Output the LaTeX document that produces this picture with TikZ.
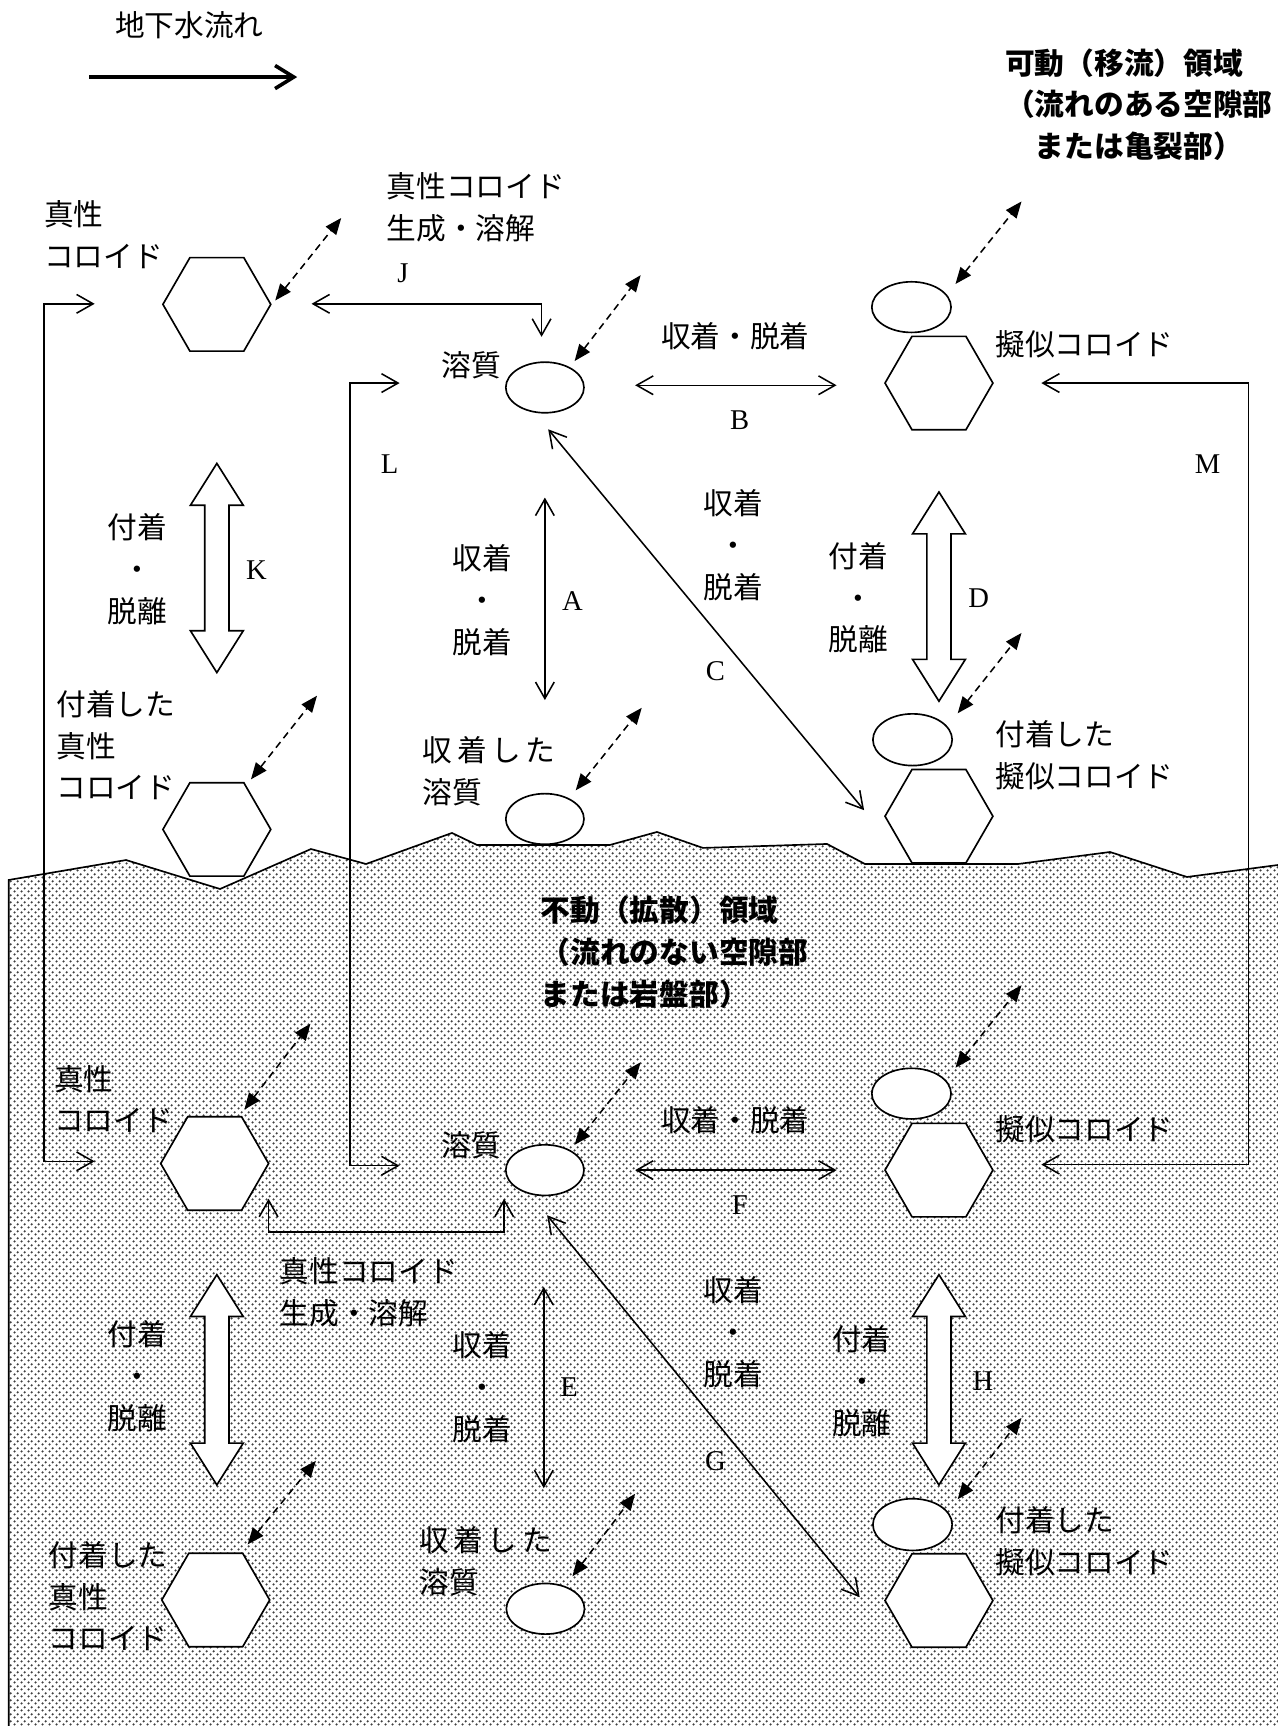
\documentclass[tikz,border=0pt]{standalone}
\usepackage{fontspec}
\setmainfont{Liberation Serif}
\newfontfamily\jp{Noto Sans CJK JP}
\usetikzlibrary{shapes.geometric,arrows.meta,patterns}
\pgfdeclarepatternformonly{gdots}{\pgfqpoint{0pt}{0pt}}{\pgfqpoint{6pt}{6pt}}{\pgfqpoint{6pt}{6pt}}{%
  \pgfpathcircle{\pgfqpoint{1.5pt}{1.5pt}}{1.15pt}%
  \pgfpathcircle{\pgfqpoint{4.5pt}{4.5pt}}{1.15pt}%
  \pgfusepath{fill}}
\newcommand\bigdarrow[3]{%
  \draw[bigarr] (#1,#2) -- (#1+24,#2+38) -- (#1+11,#2+38) -- (#1+11,#3-38)
    -- (#1+24,#3-38) -- (#1,#3) -- (#1-24,#3-38) -- (#1-11,#3-38)
    -- (#1-11,#2+38) -- (#1-24,#2+38) -- cycle;}
\begin{document}
\begin{tikzpicture}[x=1pt,y=-1pt,
  jtext/.style={font=\jp\fontsize{27}{38}\selectfont, inner sep=0pt},
  jbold/.style={font=\jp\bfseries\fontsize{27}{38}\selectfont, inner sep=0pt},
  ltr/.style={font=\fontsize{26}{30}\selectfont, inner sep=0pt},
  hexa/.style={regular polygon, regular polygon sides=6, minimum size=98pt, inner sep=0pt, draw, fill=white, line width=1.5pt},
  ell/.style={ellipse, minimum width=71pt, minimum height=46pt, inner sep=0pt, draw, fill=white, line width=1.5pt},
  conn/.style={line width=1.4pt, line join=miter, {Straight Barb[length=15pt,width=17pt]}-{Straight Barb[length=15pt,width=17pt]}},
  dsh/.style={line width=1.4pt, dash pattern=on 6.5pt off 4.5pt, {Triangle[length=15pt,width=12pt]}-{Triangle[length=15pt,width=12pt]}},
  bigarr/.style={draw, fill=white, line width=1.5pt, line join=miter},
]
\useasboundingbox (0,0) rectangle (1161,1568);

% ground (immobile region)
\fill[pattern=gdots, pattern color=black!75]
  (8,799.4) -- (114.5,781.3) -- (199.9,807.6) -- (282.5,771.3) -- (332.5,784.9)
  -- (410.6,756.7) -- (433.3,767.6) -- (554.1,767.6) -- (596.8,755.8) -- (638.6,770.3)
  -- (751.3,766.7) -- (785.8,784.9) -- (924.8,784.9) -- (1008.4,774.0) -- (1078.3,796.7)
  -- (1161,785.8) -- (1161,1568) -- (8,1568) -- cycle;
\draw[line width=1.5pt, line join=miter] (8,1568) -- (8,799.4) -- (114.5,781.3) -- (199.9,807.6) -- (282.5,771.3) -- (332.5,784.9)
  -- (410.6,756.7) -- (433.3,767.6) -- (554.1,767.6) -- (596.8,755.8) -- (638.6,770.3)
  -- (751.3,766.7) -- (785.8,784.9) -- (924.8,784.9) -- (1008.4,774.0) -- (1078.3,796.7)
  -- (1161,785.8);

% groundwater flow arrow
\coordinate (fl1) at (81,70);
\coordinate (fl2) at (270,70);
\draw[line width=3.3pt, -{Straight Barb[length=17pt,width=21pt]}] (fl1) -- (fl2);

% coordinates of connector ends
\coordinate (lpT) at (86,276);   \coordinate (lpTc) at (40,276);
\coordinate (lpBc) at (40,1055); \coordinate (lpB) at (86,1055);
\coordinate (lT) at (363,348);   \coordinate (lTc) at (318,348);
\coordinate (lBc) at (318,1059); \coordinate (lB) at (363,1059);
\coordinate (mT) at (946,348);   \coordinate (mTc) at (1134,348);
\coordinate (mBc) at (1134,1058); \coordinate (mB) at (946,1058);
\coordinate (jL) at (283,276); \coordinate (jC) at (492,276); \coordinate (jD) at (492,306);
\coordinate (j2L) at (244,1089); \coordinate (j2Lc) at (244,1119);
\coordinate (j2Rc) at (458,1119); \coordinate (j2R) at (458,1089);
\coordinate (bL) at (577,350); \coordinate (bR) at (760,350);
\coordinate (fL) at (577,1063); \coordinate (fR) at (760,1063);
\coordinate (aT) at (495,452); \coordinate (aB) at (495,636);
\coordinate (eT) at (494,1169); \coordinate (eB) at (494,1352);
\coordinate (cT) at (498,390); \coordinate (cB) at (785,736);
\coordinate (gT) at (497,1104); \coordinate (gB) at (781,1451);

% solid connectors
\draw[conn] (lpT) -- (lpTc) -- (lpBc) -- (lpB);
\draw[conn] (lT) -- (lTc) -- (lBc) -- (lB);
\draw[conn] (mT) -- (mTc) -- (mBc) -- (mB);
\draw[conn] (jL) -- (jC) -- (jD);
\draw[conn] (j2L) -- (j2Lc) -- (j2Rc) -- (j2R);
\draw[conn] (bL) -- (bR);
\draw[conn] (fL) -- (fR);
\draw[conn] (aT) -- (aB);
\draw[conn] (eT) -- (eB);
\draw[conn] (cT) -- (cB);
\draw[conn] (gT) -- (gB);

% shapes: mobile region
\node[hexa] (utc) at (197,276.5) {};
\node[hexa] (uatc) at (197,753.5) {};
\node[ell] (usol) at (495,352) {};
\node[ell] (usorb) at (495,744) {};
\node[hexa] (upsh) at (853,348) {};
\node[ell, minimum width=72pt] (upse) at (828,279) {};
\node[hexa] (uapsh) at (853,741.5) {};
\node[ell, minimum width=72pt, minimum height=47pt] (uapse) at (829,672) {};
% shapes: immobile region
\node[hexa] (ltc) at (195,1057) {};
\node[hexa] (latc) at (196,1453.5) {};
\node[ell] (lsol) at (495,1063) {};
\node[ell] (lsorb) at (495.5,1461.5) {};
\node[hexa] (lpsh) at (853,1063) {};
\node[ell, minimum width=72pt] (lpse) at (828,993.5) {};
\node[hexa] (lapsh) at (853,1454) {};
\node[ell, minimum width=72pt, minimum height=47pt] (lapse) at (829,1385) {};

% dashed exchange arrows
\coordinate (d1a) at (250,273);  \coordinate (d1b) at (310,198);
\coordinate (d2a) at (522,328);  \coordinate (d2b) at (582,250);
\coordinate (d3a) at (868,258);  \coordinate (d3b) at (928,183);
\coordinate (d4a) at (228,708);  \coordinate (d4b) at (288,632);
\coordinate (d5a) at (523,718);  \coordinate (d5b) at (583,643);
\coordinate (d6a) at (870,648);  \coordinate (d6b) at (928,575);
\coordinate (d7a) at (222,1008); \coordinate (d7b) at (282,930);
\coordinate (d8a) at (522,1040); \coordinate (d8b) at (582,965);
\coordinate (d9a) at (868,970);  \coordinate (d9b) at (928,895);
\coordinate (d10a) at (225,1403); \coordinate (d10b) at (287,1327);
\coordinate (d11a) at (520,1432); \coordinate (d11b) at (577,1357);
\coordinate (d12a) at (870,1362); \coordinate (d12b) at (928,1288);
\foreach \i in {1,...,12} {\draw[dsh] (d\i a) -- (d\i b);}

% thick double arrows (attachment / detachment)
\bigdarrow{197}{421}{611}
\bigdarrow{853}{447}{637}
\bigdarrow{197}{1158}{1349}
\bigdarrow{853}{1158}{1349}

% texts
\node[jtext] (tflow) at (172,23) {地下水流れ};
\node[jbold, anchor=west, align=left] (tmob) at (913,95) {可動（移流）領域\\（流れのある空隙部\\\hspace*{1em}または亀裂部）};
\node[jbold, anchor=west, align=left] (timm) at (491,865) {不動（拡散）領域\\（流れのない空隙部\\または岩盤部）};

\node[jtext, anchor=west, align=left] (t1) at (40,213.5) {真性\\コロイド};
\node[jtext, anchor=west, align=left] (t2) at (351,188.5) {真性コロイド\\生成・溶解};
\node[ltr] (tJ) at (366,248) {J};
\node[jtext] (t3) at (428,332) {溶質};
\node[jtext] (t4) at (668,305) {収着・脱着};
\node[ltr] (tB) at (672,382) {B};
\node[jtext, anchor=west] (t5) at (904,313) {擬似コロイド};
\node[ltr] (tL) at (354,422) {L};
\node[ltr] (tM) at (1097,422) {M};
\node[jtext, align=center] (t6) at (125,517) {付着\\・\\脱離};
\node[ltr] (tK) at (233,518) {K};
\node[jtext, align=center] (t7) at (438,545) {収着\\・\\脱着};
\node[ltr] (tA) at (520,546) {A};
\node[jtext, align=center] (t8) at (666,495) {収着\\・\\脱着};
\node[ltr] (tC) at (650,610) {C};
\node[jtext, align=center] (t9) at (780,543) {付着\\・\\脱離};
\node[ltr] (tD) at (889,543) {D};
\node[jtext, anchor=west, align=left] (t10) at (51,677) {付着した\\真性\\コロイド};
\node[jtext, anchor=west, align=left] (t11) at (384,700.5) {{\addfontfeature{LetterSpace=15}収着した}\\溶質};
\node[jtext, anchor=west, align=left] (t12) at (904,686) {付着した\\擬似コロイド};

\node[jtext, anchor=west, align=left] (t13) at (49,998.5) {真性\\コロイド};
\node[jtext] (t14) at (428,1040) {溶質};
\node[jtext] (t15) at (668,1018) {収着・脱着};
\node[ltr] (tF) at (672,1095) {F};
\node[jtext, anchor=west] (t16) at (904,1026) {擬似コロイド};
\node[jtext, anchor=west, align=left] (t17) at (254,1174) {真性コロイド\\生成・溶解};
\node[jtext, align=center] (t18) at (125,1250) {付着\\・\\脱離};
\node[jtext, align=center] (t19) at (438,1260) {収着\\・\\脱着};
\node[ltr] (tE) at (517,1260) {E};
\node[jtext, align=center] (t20) at (666,1210) {収着\\・\\脱着};
\node[ltr] (tG) at (650,1327) {G};
\node[jtext, align=center] (t21) at (783,1255) {付着\\・\\脱離};
\node[ltr] (tH) at (893,1255) {H};
\node[jtext, anchor=west, align=left] (t22) at (904,1400) {付着した\\擬似コロイド};
\node[jtext, anchor=west, align=left] (t23) at (44,1450) {付着した\\真性\\コロイド};
\node[jtext, anchor=west, align=left] (t24) at (381,1418.5) {{\addfontfeature{LetterSpace=15}収着した}\\溶質};
\end{tikzpicture}
\end{document}
